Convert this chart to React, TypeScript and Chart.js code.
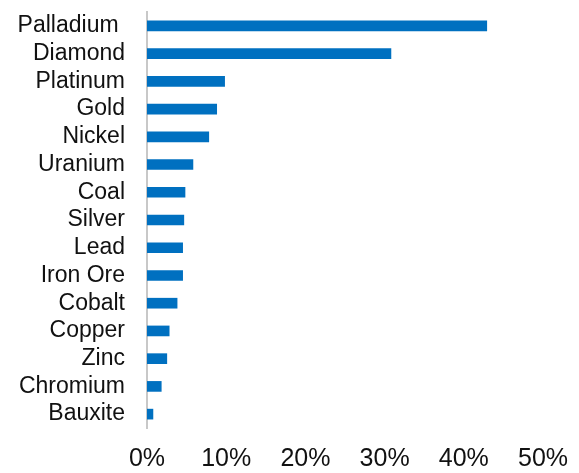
import React, { useEffect, useRef } from "react";
import { Chart, registerables } from "chart.js";

Chart.register(...registerables);

const categories = [
  "Palladium ",
  "Diamond",
  "Platinum",
  "Gold",
  "Nickel",
  "Uranium",
  "Coal",
  "Silver",
  "Lead",
  "Iron Ore",
  "Cobalt",
  "Copper",
  "Zinc",
  "Chromium",
  "Bauxite",
];
const values = [42.9, 30.8, 9.8, 8.8, 7.8, 5.8, 4.8, 4.65, 4.5, 4.5, 3.8, 2.8, 2.5, 1.8, 0.75];
const tickValues = [0, 10, 20, 30, 40, 50];

export default function App() {
  const ref = useRef<HTMLCanvasElement | null>(null);
  useEffect(() => {
    if (!ref.current) return;
    const chart = new Chart(ref.current, {
      type: "bar",
      data: {
        labels: categories,
        datasets: [
          {
            data: values,
            backgroundColor: "#0070c0",
            barThickness: 10,
          },
        ],
      },
      options: {
        indexAxis: "y",
        animation: false,
        responsive: false,
        maintainAspectRatio: false,
        layout: { padding: { top: 12, right: 36, left: 0, bottom: 0 } },
        plugins: { legend: { display: false }, tooltip: { enabled: false } },
        scales: {
          x: {
            min: 0,
            max: 50,
            afterFit: (s: any) => {
              s.height = 45;
              s.paddingLeft = 0;
              s.paddingRight = 0;
              s.paddingTop = 0;
              s.paddingBottom = 0;
            },
            afterBuildTicks: (s: any) => {
              s.ticks = tickValues.map((v) => ({ value: v }));
            },
            grid: { display: false, drawTicks: false },
            border: { display: false },
            ticks: {
              padding: 16,
              autoSkip: false,
              maxRotation: 0,
              color: "#111",
              font: { family: "'Liberation Sans', Arial, sans-serif", size: 25 },
              callback: (v: any) => v + "%",
            },
          },
          y: {
            afterFit: (s: any) => {
              s.width = 147;
              s.paddingLeft = 0;
              s.paddingRight = 0;
              s.paddingTop = 0;
              s.paddingBottom = 0;
            },
            grid: { display: false, drawTicks: false },
            border: { display: true, color: "#c8c8c8", width: 2 },
            ticks: {
              padding: 22,
              autoSkip: false,
              color: "#111",
              font: { family: "'Liberation Sans', Arial, sans-serif", size: 23 },
            },
          },
        },
      },
    });
    return () => chart.destroy();
  }, []);
  return (
    <div style={{ position: "fixed", left: 0, top: 0, width: 579, height: 473, background: "#fff" }}>
      <canvas ref={ref} width={579} height={473} style={{ width: 579, height: 473 }} />
    </div>
  );
}
